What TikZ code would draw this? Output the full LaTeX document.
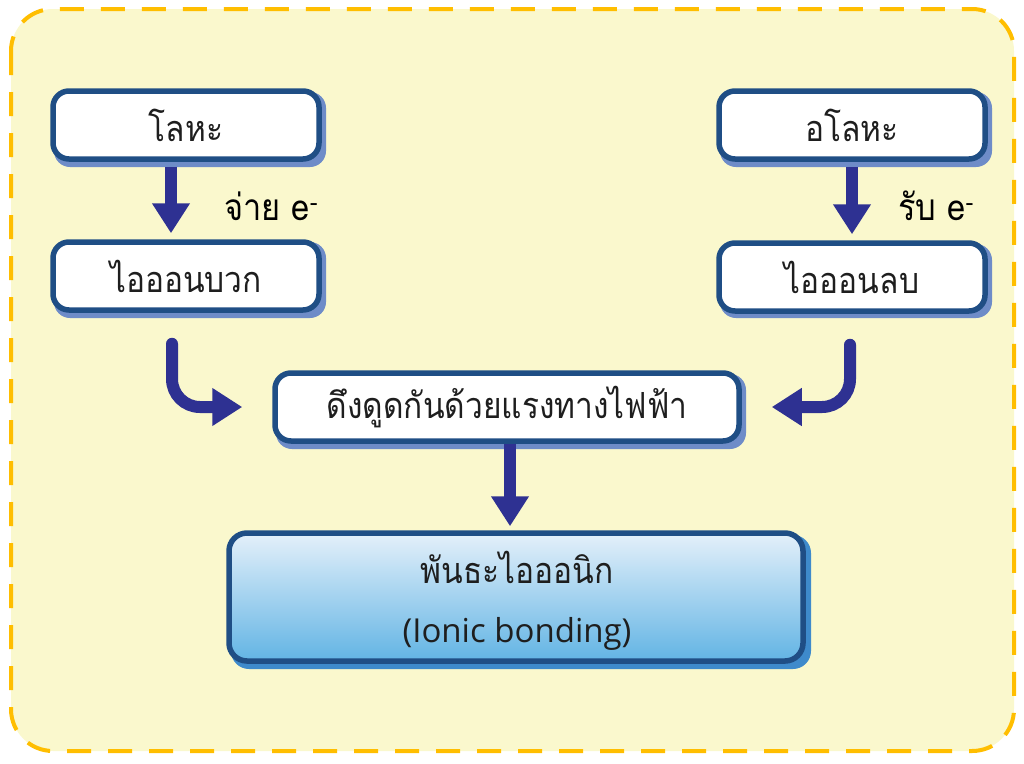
\documentclass[tikz,border=0pt]{standalone}
\usepackage{fontspec}
\setmainfont{Loma}[Script=Thai, FakeStretch=0.88]
\newfontfamily\latinfont{Open Sans}
\usetikzlibrary{arrows.meta,calc}
\definecolor{bgfill}{RGB}{250,248,205}
\definecolor{dashcol}{RGB}{255,190,0}
\definecolor{boxborder}{RGB}{31,78,133}
\definecolor{boxshadow}{RGB}{110,140,200}
\definecolor{arrcol}{RGB}{46,49,146}
\definecolor{gradtop}{RGB}{228,240,250}
\definecolor{gradbot}{RGB}{98,180,228}
\definecolor{bondshadow}{RGB}{62,138,203}
\definecolor{txt}{RGB}{30,30,30}
\tikzset{
  x=1pt,y=-1pt,
  whitebox/.style={draw=boxborder, line width=5.5pt, fill=white, rounded corners=16pt,
    minimum width=266pt, minimum height=68pt, inner sep=0pt, font=\fontsize{36}{40}\selectfont, text=txt},
  shadowbox/.style={fill=boxshadow, rounded corners=16pt},
  bigarrow/.style={draw=arrcol, line width=12pt, -{Triangle[width=36pt,length=30pt]}},
  lbl/.style={font=\fontsize{37}{42}\selectfont, text=black, inner sep=0pt}
}
\begin{document}
\begin{tikzpicture}
\useasboundingbox (0,0) rectangle (1024,763);
% background
\draw[fill=bgfill, draw=dashcol, line width=4pt, dash pattern=on 24pt off 17pt, rounded corners=42pt]
  (11,9) rectangle (1014,751);
% shadows
\fill[shadowbox] (54,92) rectangle (326,167);
\fill[shadowbox] (54,242) rectangle (326,318);
\fill[shadowbox] (720,92) rectangle (992,167);
\fill[shadowbox] (720,244) rectangle (992,318);
\fill[shadowbox] (276,374) rectangle (746,449);
\fill[fill=bondshadow, rounded corners=18pt] (231,535) rectangle (811,669);
% nodes
\node[whitebox] (metal) at (186,125) {โลหะ};
\node[whitebox] (pos) at (186,276) {ไอออนบวก};
\node[whitebox] (nonmetal) at (852,125) {อโลหะ};
\node[whitebox] (neg) at (852,277) {ไอออนลบ};
\node[whitebox, minimum width=464pt] (mid) at (507,407) {ดึงดูดกันด้วยแรงทางไฟฟ้า};
\node[draw=boxborder, line width=5.5pt, rounded corners=18pt, top color=gradtop, bottom color=gradbot,
  minimum width=574pt, minimum height=128pt, inner sep=0pt] (bond) at (516,597) {};
\node[font=\fontsize{36}{40}\selectfont, text=txt] (bondth) at (517,567) {พันธะไอออนิก};
\node[font=\latinfont\fontsize{33}{38}\selectfont, text=txt] (bonden) at (517,634) {(Ionic bonding)};
% labels
\node[lbl, anchor=west] (give) at (224,206) {จ่าย e\textsuperscript{\latinfont -}};
\node[lbl, anchor=west] (take) at (898,206) {รับ e\textsuperscript{\latinfont -}};
% arrows
\draw[bigarrow, shorten <=5pt, shorten >=6pt] ([xshift=-15pt]metal.south) -- ([xshift=-15pt]pos.north);
\draw[bigarrow, shorten <=5pt, shorten >=6pt] (nonmetal.south) -- (neg.north);
\draw[bigarrow, shorten >=4pt] ([xshift=3pt]mid.south) -- ([xshift=-6pt]bond.north);
\draw[bigarrow, line cap=round, rounded corners=28pt, shorten >=30pt]
  ([xshift=-14pt,yshift=-31pt]pos.south) |- (mid.west);
\draw[bigarrow, line cap=round, rounded corners=28pt, shorten >=30pt]
  ([xshift=-2pt,yshift=-31pt]neg.south) |- (mid.east);
\end{tikzpicture}
\end{document}
